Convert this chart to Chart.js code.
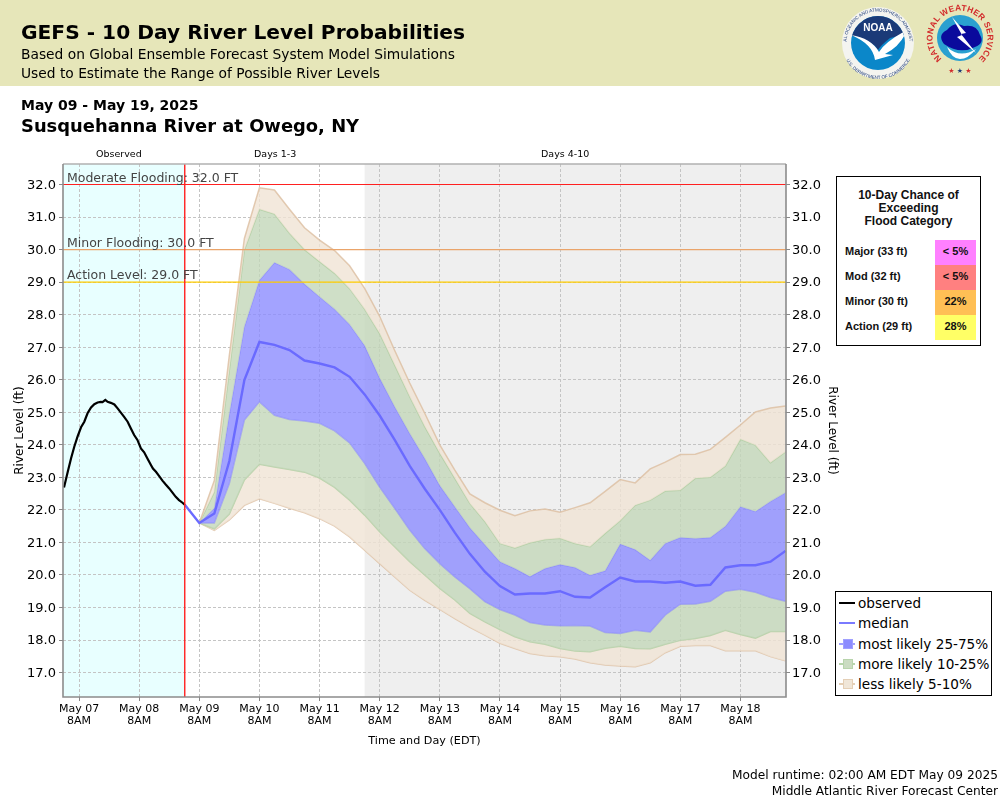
<!DOCTYPE html>
<html>
<head>
<meta charset="utf-8">
<title>GEFS River Level Probabilities</title>
<script src="https://cdn.jsdelivr.net/npm/chart.js@4"></script>
<style>
  html, body { margin: 0; padding: 0; background: #fff; }
  body { width: 1000px; height: 800px; position: relative; overflow: hidden; font-family: "DejaVu Sans", sans-serif; color: #000; }
  canvas { position: absolute; left: 0; top: 0; }
  .txt { position: absolute; white-space: nowrap; }
  #banner { position: absolute; left: 0; top: 0; width: 1000px; height: 86px; background: #e6e6b9; }
  #logos { position: absolute; left: 835px; top: 0; }
  #chance { position: absolute; left: 836px; top: 176px; width: 143px; height: 168px; border: 1.5px solid #000; background: #fff; font-family: "Liberation Sans", Arial, sans-serif; font-weight: bold; color: #111; }
  #chance .head { position: absolute; left: 0; top: 12px; width: 100%; text-align: center; font-size: 12px; line-height: 13px; }
  #chance .row { position: absolute; left: 0; width: 100%; height: 25px; font-size: 11px; line-height: 23px; }
  #chance .name { position: absolute; left: 8px; }
  #chance .swatch { position: absolute; left: 98px; width: 41px; height: 100%; text-align: center; font-size: 11px; }
  #legend { position: absolute; left: 835px; top: 591px; width: 155px; height: 103px; border: 1.5px solid #000; background: #fff; font-size: 13.6px; }
  #legend .row { position: absolute; left: 2px; height: 20px; line-height: 20px; }
  #legend .line { position: absolute; left: 1px; top: 9px; width: 16px; height: 2px; }
  #legend .box { position: absolute; left: 5px; top: 5px; width: 8px; height: 8px; border: 1px solid; }
  #legend .label { position: absolute; left: 20px; white-space: nowrap; }
</style>
</head>
<body>
<div id="banner"></div>
<canvas id="chart" width="1000" height="800"></canvas>

<div class="txt" style="left:21px;top:20px;font-size:20.2px;font-weight:bold;">GEFS - 10 Day River Level Probabilities</div>
<div class="txt" style="left:21px;top:46px;font-size:13.8px;">Based on Global Ensemble Forecast System Model Simulations</div>
<div class="txt" style="left:21px;top:65px;font-size:13.8px;">Used to Estimate the Range of Possible River Levels</div>
<div class="txt" style="left:21px;top:97px;font-size:14px;font-weight:bold;">May 09 - May 19, 2025</div>
<div class="txt" style="left:21px;top:115px;font-size:17.9px;font-weight:bold;">Susquehanna River at Owego, NY</div>
<div class="txt" style="left:96px;top:148px;font-size:9.5px;">Observed</div>
<div class="txt" style="left:254px;top:148px;font-size:9.5px;">Days 1-3</div>
<div class="txt" style="left:541px;top:148px;font-size:9.5px;">Days 4-10</div>
<div class="txt" style="right:2px;top:768px;font-size:12.2px;">Model runtime: 02:00 AM EDT May 09 2025</div>
<div class="txt" style="right:2px;top:784px;font-size:12.2px;">Middle Atlantic River Forecast Center</div>

<svg id="logos" width="165" height="86" viewBox="0 0 165 86">
  <defs>
    <path id="noaaArcTop" d="M 11.5 43 A 31.5 31.5 0 1 1 74.5 43"/>
    <path id="noaaArcBottom" d="M 7 43 A 36 36 0 0 0 79 43"/>
    <path id="nwsArc" d="M 105.5 57.5 A 27.5 27.5 0 1 1 144.5 57.5"/>
    <clipPath id="noaaClip"><circle cx="43" cy="43" r="27"/></clipPath>
  </defs>
  <circle cx="43" cy="43" r="36" fill="#f4f4f0"/>
  <g clip-path="url(#noaaClip)">
    <rect x="10" y="10" width="66" height="66" fill="#0b87c9"/>
    <path d="M 10 10 H 76 V 33 L 55 38 Q 45 46 43 50 Q 38 40 10 34 Z" fill="#1b3a78"/>
    <path d="M 16 35 Q 36 38 44 52 Q 50 42 72 30 Q 66 46 50 54 L 58 55 L 40 60 Q 38 44 16 35 Z" fill="#fff"/>
  </g>
  <text x="43" y="31" text-anchor="middle" font-family="Liberation Sans" font-weight="bold" font-size="10" fill="#fff">NOAA</text>
  <text font-family="Liberation Sans" font-size="4.6" fill="#1b3a78"><textPath href="#noaaArcTop" startOffset="50%" text-anchor="middle">NATIONAL OCEANIC AND ATMOSPHERIC ADMINISTRATION</textPath></text>
  <text font-family="Liberation Sans" font-size="4.6" fill="#1b3a78"><textPath href="#noaaArcBottom" startOffset="50%" text-anchor="middle">U.S. DEPARTMENT OF COMMERCE</textPath></text>

  <circle cx="125" cy="38" r="23" fill="#2aa0d0"/>
  <g transform="translate(-1,-3)">
    <path d="M 110 47 Q 103 38 113 33 Q 120 24 130 29 Q 143 27 146 38 Q 151 46 141 50 Q 126 58 110 47 Z" fill="#0a0a9c"/>
    <path d="M 113 50 Q 126 62 142 52 Q 134 62 126 62 Q 118 62 113 50 Z" fill="#fff"/>
    <path d="M 118 20 L 132 36 L 127 37 L 142 56 L 123 40 L 128 38 Z" fill="#fff"/>
  </g>
  <text font-family="Liberation Sans" font-weight="bold" font-size="8.4" fill="#d22b2b" letter-spacing="0.3"><textPath href="#nwsArc" startOffset="50%" text-anchor="middle">NATIONAL WEATHER SERVICE</textPath></text>
  <text x="125" y="73" text-anchor="middle" font-size="7" fill="#d22b2b">★ <tspan fill="#1b3a78">★</tspan> ★</text>
</svg>

<div id="chance">
  <div class="head">10-Day Chance of<br>Exceeding<br>Flood Category</div>
</div>
<div id="legend"></div>

<script>
// hours are counted from May 07 2AM
const obsHours = [0, 1.5, 2.8, 4.1, 5.4, 6.8, 8.1, 9.4, 10.8, 12.1, 13.4, 14.7, 15.4, 16.5, 17.4, 18.7, 20.1, 21.4, 22.7, 24, 25.4, 26.7, 28, 29.3, 30.7, 32, 33.3, 34.7, 35.5, 36.7, 38, 39.3, 40.6, 42, 43.3, 44.6, 45.9, 47.3, 48.3];
const obsLevels = [22.69, 23.17, 23.58, 23.94, 24.25, 24.54, 24.71, 24.97, 25.15, 25.25, 25.30, 25.32, 25.31, 25.38, 25.32, 25.29, 25.24, 25.12, 24.99, 24.86, 24.71, 24.50, 24.30, 24.15, 23.89, 23.77, 23.58, 23.38, 23.27, 23.17, 23.04, 22.90, 22.78, 22.66, 22.53, 22.40, 22.30, 22.22, 22.15];

const fcstHours = [54, 60, 66, 72, 78, 84, 90, 96, 102, 108, 114, 120, 126, 132, 138, 144, 150, 156, 162, 168, 174, 180, 186, 192, 198, 204, 210, 216, 222, 228, 234, 240, 246, 252, 258, 264, 270, 276, 282, 288];
const p5 = [21.60, 21.37, 21.69, 22.14, 22.34, 22.20, 22.05, 21.91, 21.73, 21.50, 21.17, 20.76, 20.35, 19.94, 19.53, 19.22, 18.94, 18.66, 18.39, 18.15, 17.90, 17.74, 17.59, 17.52, 17.49, 17.42, 17.30, 17.23, 17.20, 17.18, 17.30, 17.61, 17.81, 17.83, 17.83, 17.67, 17.67, 17.67, 17.49, 17.36];
const p10 = [21.60, 21.42, 21.87, 22.92, 23.40, 23.32, 23.24, 23.16, 22.98, 22.69, 22.30, 21.84, 21.33, 20.87, 20.41, 20.00, 19.59, 19.23, 18.82, 18.56, 18.32, 18.10, 17.95, 17.87, 17.74, 17.66, 17.64, 17.75, 17.81, 17.74, 17.73, 17.87, 17.99, 18.05, 18.14, 18.30, 18.17, 18.06, 18.26, 18.26];
const p25 = [21.60, 21.60, 22.81, 24.76, 25.32, 24.91, 24.78, 24.73, 24.66, 24.43, 24.06, 23.43, 22.70, 22.05, 21.38, 20.81, 20.35, 19.94, 19.58, 19.18, 18.94, 18.77, 18.54, 18.46, 18.44, 18.45, 18.43, 18.23, 18.20, 18.30, 18.25, 18.77, 19.10, 19.11, 19.19, 19.50, 19.56, 19.47, 19.31, 19.19];
const p50 = [21.60, 21.89, 23.50, 25.99, 27.16, 27.07, 26.91, 26.59, 26.50, 26.38, 26.09, 25.55, 24.90, 24.15, 23.35, 22.65, 22.00, 21.30, 20.65, 20.10, 19.66, 19.40, 19.43, 19.43, 19.50, 19.33, 19.31, 19.62, 19.92, 19.80, 19.80, 19.76, 19.80, 19.67, 19.70, 20.23, 20.30, 20.30, 20.41, 20.74];
const p75 = [21.60, 22.05, 24.95, 27.63, 29.06, 29.60, 29.39, 28.94, 28.55, 28.17, 27.70, 27.05, 26.05, 25.17, 24.35, 23.58, 22.75, 22.10, 21.45, 20.93, 20.41, 20.20, 19.95, 20.20, 20.32, 20.23, 19.99, 20.13, 20.95, 20.78, 20.45, 20.97, 21.15, 21.12, 21.15, 21.50, 22.10, 21.95, 22.26, 22.53];
const p90 = [21.60, 22.55, 26.30, 29.99, 31.24, 31.09, 30.50, 30.00, 29.63, 29.27, 28.80, 28.17, 27.42, 26.45, 25.48, 24.56, 23.74, 22.97, 22.20, 21.64, 20.97, 20.83, 20.99, 21.09, 21.13, 20.97, 20.87, 21.28, 21.67, 22.14, 22.30, 22.58, 22.60, 22.97, 23.00, 23.35, 24.17, 23.99, 23.45, 23.78];
const p95 = [21.60, 22.90, 26.75, 30.34, 31.90, 31.83, 31.24, 30.67, 30.29, 29.97, 29.50, 28.81, 27.95, 26.90, 25.90, 24.97, 24.00, 23.22, 22.49, 22.22, 21.99, 21.82, 21.97, 22.03, 21.93, 22.07, 22.22, 22.57, 22.93, 22.83, 23.26, 23.47, 23.70, 23.71, 23.86, 24.23, 24.61, 25.01, 25.13, 25.19];

// median line starts where the observed line stops
const medianStartHour = 48.3;
const medianStartLevel = 22.15;

const floodLevels = [32, 30, 29];
const floodNames = ['Moderate Flooding', 'Minor Flooding', 'Action Level'];
const floodColors = ['#ff2020', '#eaa46a', '#ffcc00'];

const xTicks = [6, 30, 54, 78, 102, 126, 150, 174, 198, 222, 246, 270];
const xTickDays = ['May 07', 'May 08', 'May 09', 'May 10', 'May 11', 'May 12', 'May 13', 'May 14', 'May 15', 'May 16', 'May 17', 'May 18'];
const yTicks = [17, 18, 19, 20, 21, 22, 23, 24, 25, 26, 27, 28, 29, 30, 31, 32];
const xMin = -0.4, xMax = 288.2, yMin = 16.25, yMax = 32.63;
const nowHour = 48.2, days4Hour = 120;

const chanceNames = ['Major (33 ft)', 'Mod (32 ft)', 'Minor (30 ft)', 'Action (29 ft)'];
const chanceValues = ['< 5%', '< 5%', '22%', '28%'];
const chanceColors = ['#ff80ff', '#ff8080', '#ffbf55', '#ffff66'];

const legendNames = ['observed', 'median', 'most likely 25-75%', 'more likely 10-25%', 'less likely 5-10%'];
const legendLines = ['#000', '#7a7aff', '#a0a0ff', '#b8d4ac', '#e4cfb6'];
const legendBoxes = [null, null, '#8c8cff', '#cbdcc2', '#f0e6d8'];

const pts = (hrs, vals) => hrs.map((h, i) => ({ x: h, y: vals[i] }));

// ---- bands behind the grid, labels on top ----
const decorPlugin = {
  id: 'decor',
  beforeDraw(chart) {
    const { ctx, chartArea: a, scales: { x } } = chart;
    ctx.save();
    ctx.fillStyle = '#e8ffff';
    ctx.fillRect(a.left, a.top, x.getPixelForValue(nowHour) - a.left, a.height);
    ctx.fillStyle = '#efefef';
    ctx.fillRect(x.getPixelForValue(days4Hour), a.top, a.right - x.getPixelForValue(days4Hour), a.height);
    ctx.restore();
  },
  afterDatasetsDraw(chart) {
    const { ctx, chartArea: a, scales: { x, y } } = chart;
    ctx.save();
    ctx.strokeStyle = '#ff2020';
    ctx.lineWidth = 1.4;
    ctx.beginPath();
    ctx.moveTo(x.getPixelForValue(nowHour), a.top);
    ctx.lineTo(x.getPixelForValue(nowHour), a.bottom);
    ctx.stroke();

    ctx.font = '12.5px "DejaVu Sans"';
    ctx.fillStyle = '#444';
    ctx.textBaseline = 'alphabetic';
    floodLevels.forEach((lvl, i) => {
      ctx.fillText(floodNames[i] + ': ' + lvl.toFixed(1) + ' FT', a.left + 4, y.getPixelForValue(lvl) - 3);
    });

    // frame: lighter on top
    ctx.lineWidth = 1.6;
    ctx.strokeStyle = '#b0b0b0';
    ctx.beginPath();
    ctx.moveTo(a.left, a.top);
    ctx.lineTo(a.right, a.top);
    ctx.stroke();
    ctx.strokeStyle = '#8c8c8c';
    ctx.beginPath();
    ctx.moveTo(a.left, a.top);
    ctx.lineTo(a.left, a.bottom);
    ctx.lineTo(a.right, a.bottom);
    ctx.lineTo(a.right, a.top);
    ctx.stroke();
    ctx.restore();
  }
};

const lineDs = (label, hrs, vals, color, width, extra) => Object.assign({
  label: label,
  data: pts(hrs, vals),
  borderColor: color,
  borderWidth: width,
  pointRadius: 0,
  tension: 0,
  fill: false
}, extra || {});

const tan = 'rgba(240,228,212,0.8)', green = 'rgba(195,215,185,0.8)', blue = 'rgba(140,140,255,0.8)';
const tanEdge = 'rgba(220,190,160,0.8)', greenEdge = 'rgba(175,205,160,0.8)', blueEdge = 'rgba(125,125,250,0.5)';

const datasets = [
  lineDs('p5', fcstHours, p5, tanEdge, 1.5, { order: 20 }),
  lineDs('p10', fcstHours, p10, greenEdge, 1.5, { fill: '-1', backgroundColor: tan, order: 19 }),
  lineDs('p25', fcstHours, p25, blueEdge, 1.5, { fill: '-1', backgroundColor: green, order: 18 }),
  lineDs('p75', fcstHours, p75, blueEdge, 1.5, { fill: '-1', backgroundColor: blue, order: 17 }),
  lineDs('p90', fcstHours, p90, greenEdge, 1.5, { fill: '-1', backgroundColor: green, order: 16 }),
  lineDs('p95', fcstHours, p95, tanEdge, 1.5, { fill: '-1', backgroundColor: tan, order: 15 }),
  lineDs('median', [medianStartHour].concat(fcstHours), [medianStartLevel].concat(p50), '#6a6aff', 2.4, { order: 5 }),
  lineDs('observed', obsHours, obsLevels, '#000', 2.2, { order: 4 })
];
floodLevels.forEach((lvl, i) => {
  datasets.push(lineDs(floodNames[i], [xMin, xMax], [lvl, lvl], floodColors[i], 1.2, { order: 3 }));
});

const gridOpts = {
  color: '#c4c4c4',
  lineWidth: 1,
  tickLength: 4,
  tickColor: '#888',
  tickBorderDash: [],
  drawOnChartArea: true
};

new Chart(document.getElementById('chart'), {
  type: 'line',
  data: { datasets: datasets },
  plugins: [decorPlugin],
  options: {
    responsive: false,
    animation: false,
    layout: { padding: { top: 164, left: 13, right: 161, bottom: 52 } },
    plugins: { legend: { display: false }, tooltip: { enabled: false } },
    scales: {
      x: {
        type: 'linear',
        min: xMin,
        max: xMax,
        afterBuildTicks: s => { s.ticks = xTicks.map(v => ({ value: v })); },
        afterFit: s => { s.height = 51; },
        border: { display: false, dash: [3, 2] },
        grid: gridOpts,
        ticks: {
          autoSkip: false,
          maxRotation: 0,
          color: '#000',
          padding: 2,
          font: { family: 'DejaVu Sans', size: 11, lineHeight: 1.1 },
          callback: v => [xTickDays[xTicks.indexOf(v)], '8AM']
        },
        title: { display: true, text: 'Time and Day (EDT)', color: '#000', font: { family: 'DejaVu Sans', size: 11.2 }, padding: { top: 8, bottom: 0 } }
      },
      y: {
        position: 'left',
        min: yMin,
        max: yMax,
        afterBuildTicks: s => { s.ticks = yTicks.map(v => ({ value: v })); },
        afterFit: s => { s.width = 50; },
        border: { display: false, dash: [3, 2] },
        grid: gridOpts,
        ticks: { color: '#000', padding: 3, labelOffset: 1, font: { family: 'DejaVu Sans', size: 13 }, callback: v => v.toFixed(1) },
        title: { display: true, text: 'River Level (ft)', color: '#000', font: { family: 'DejaVu Sans', size: 12 }, padding: { top: 0, bottom: 0 } }
      },
      y2: {
        position: 'right',
        min: yMin,
        max: yMax,
        afterBuildTicks: s => { s.ticks = yTicks.map(v => ({ value: v })); },
        afterFit: s => { s.width = 53; },
        border: { display: false },
        grid: { drawOnChartArea: false, tickLength: 4, tickColor: '#888' },
        ticks: { color: '#000', padding: 2, labelOffset: 1, font: { family: 'DejaVu Sans', size: 13 }, callback: v => v.toFixed(1) },
        title: { display: true, text: 'River Level (ft)', color: '#000', font: { family: 'DejaVu Sans', size: 12 }, padding: { top: 0, bottom: 0 } }
      }
    }
  }
});

// ---- flood chance table and legend are plain html ----
const chanceBox = document.getElementById('chance');
chanceNames.forEach((name, i) => {
  const row = document.createElement('div');
  row.className = 'row';
  row.style.top = (63 + i * 25) + 'px';
  row.innerHTML = '<span class="name">' + name + '</span><span class="swatch" style="background:' + chanceColors[i] + '">' + chanceValues[i].replace('<', '&lt;') + '</span>';
  chanceBox.appendChild(row);
});

const legendBox = document.getElementById('legend');
legendNames.forEach((name, i) => {
  const row = document.createElement('div');
  row.className = 'row';
  row.style.top = (1 + i * 20.3) + 'px';
  let html = '<span class="line" style="background:' + legendLines[i] + '"></span>';
  if (legendBoxes[i]) html += '<span class="box" style="background:' + legendBoxes[i] + ';border-color:' + legendLines[i] + '"></span>';
  html += '<span class="label">' + name + '</span>';
  row.innerHTML = html;
  legendBox.appendChild(row);
});
</script>
</body>
</html>
